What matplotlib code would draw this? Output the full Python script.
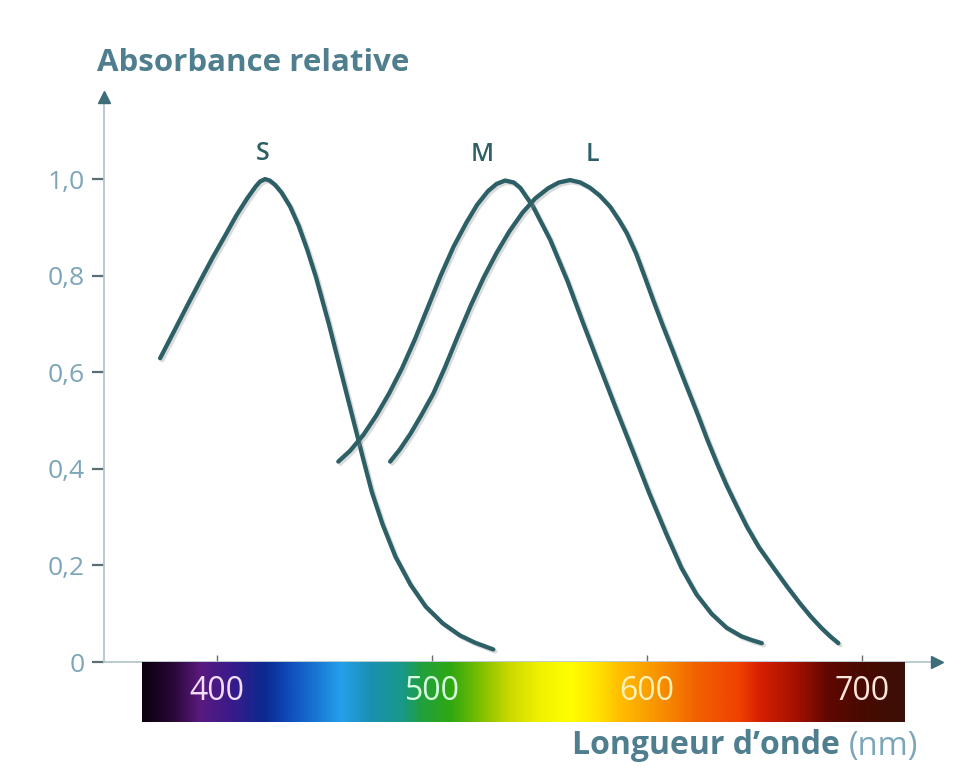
import matplotlib
matplotlib.use("Agg")
import matplotlib.pyplot as plt
import matplotlib.patheffects as pe
from matplotlib.colors import LinearSegmentedColormap
import numpy as np

plt.rcParams['font.family'] = ['Open Sans', 'DejaVu Sans']

# Relative absorbance of the three cone types
s_nm = [373.5, 380, 386, 392, 398, 404, 409, 414, 418, 420, 422.3, 424.5, 427,
        430, 434, 438, 442, 446, 452, 458, 464, 468, 472, 477, 483, 490, 497,
        505, 513, 520, 528.5]
s_abs = [0.629, 0.685, 0.737, 0.788, 0.838, 0.885, 0.925, 0.960, 0.985, 0.995, 1.0, 0.997, 0.988,
         0.972, 0.943, 0.903, 0.853, 0.797, 0.700, 0.595, 0.490, 0.420, 0.352, 0.285, 0.218, 0.160, 0.115,
         0.080, 0.055, 0.040, 0.026]

m_nm = [456.4, 462, 468, 474, 480, 486, 492, 498, 504, 510, 516, 521, 526, 530, 534,
        538, 541, 547, 555, 563, 570, 578, 586, 594, 601, 609, 616, 623, 630, 637,
        644, 649, 653.4]
m_abs = [0.415, 0.438, 0.470, 0.510, 0.556, 0.608, 0.668, 0.734, 0.800, 0.860, 0.910, 0.947, 0.975, 0.990, 0.997,
         0.993, 0.982, 0.943, 0.874, 0.789, 0.705, 0.612, 0.520, 0.430, 0.350, 0.265, 0.195, 0.140, 0.100, 0.071,
         0.053, 0.045, 0.039]

l_nm = [480.5, 485, 490, 495, 500.6, 506, 512, 518, 524, 530, 536, 542, 548, 554, 559,
        564.2, 569, 573.5, 578, 582.8, 587, 590.6, 595, 599, 603, 607.5, 612.2, 616,
        620, 624, 628, 632.5, 637, 642, 646.5, 652, 659, 665, 671, 676, 681, 685, 689]
l_abs = [0.415, 0.440, 0.473, 0.511, 0.556, 0.610, 0.675, 0.738, 0.796, 0.847, 0.892, 0.930, 0.960, 0.981, 0.993,
         0.998, 0.993, 0.982, 0.966, 0.943, 0.915, 0.888, 0.845, 0.797, 0.748, 0.695, 0.642, 0.598,
         0.553, 0.508, 0.461, 0.412, 0.366, 0.320, 0.280, 0.238, 0.194, 0.157, 0.122, 0.095, 0.071, 0.054, 0.039]

cone_names = ['S', 'M', 'L']
name_pos = [(421.4, 1.052), (523.3, 1.050), (574.4, 1.050)]

y_ticks = [0, 0.2, 0.4, 0.6, 0.8, 1.0]
y_tick_labels = ['0', '0,2', '0,4', '0,6', '0,8', '1,0']
wl_ticks = [400, 500, 600, 700]
wl_label_colors = ['#f2ddf8', '#d8ffe0', '#fff2b8', '#ffe6dc']

curve_col = '#2d5f67'
axis_col = '#b4c6cc'
tick_text_col = '#7ca6b8'
title_col = '#4f7f8f'

fig = plt.figure(figsize=(9.6, 7.8), dpi=100)
W, H = 960, 780

ax = fig.add_axes([104 / W, (H - 662) / H, (937 - 104) / W, (662 - 97) / H])
ax.set_xlim(347.4, 734.9)
ax.set_ylim(0, 1.17)

for side in ['top', 'right']:
    ax.spines[side].set_visible(False)
for side in ['left', 'bottom']:
    ax.spines[side].set_color(axis_col)
    ax.spines[side].set_linewidth(1.3)

# arrow heads on the axes
ax.plot(0, 1, '^', transform=ax.transAxes, clip_on=False, color='#3d6d7a', ms=8, zorder=5)
ax.plot(1, 0, '>', transform=ax.transAxes, clip_on=False, color='#3d6d7a', ms=8, zorder=5)

ax.set_yticks(y_ticks)
ax.set_yticklabels(y_tick_labels)
ax.tick_params(axis='y', direction='out', length=9, width=1.6, color='#5a6e75',
               labelcolor=tick_text_col, labelsize=19, pad=5)
ax.set_xticks(wl_ticks)
ax.set_xticklabels([])
ax.tick_params(axis='x', direction='in', length=5, width=1, color='#6a6a6a')

shadow = [pe.SimpleLineShadow(offset=(1.5, -1.5), shadow_color='#888888', alpha=0.3),
          pe.Normal()]
for nm, ab in [(s_nm, s_abs), (m_nm, m_abs), (l_nm, l_abs)]:
    ax.plot(nm, ab, color=curve_col, lw=3.1, solid_capstyle='round',
            solid_joinstyle='round', path_effects=shadow, zorder=3)

for name, (x, y) in zip(cone_names, name_pos):
    ax.text(x, y, name, ha='center', va='center', fontsize=18, fontweight='semibold',
            color=curve_col)

# colour spectrum under the axis
ax_bar = fig.add_axes([142 / W, (H - 722) / H, (905 - 142) / W, 60 / H])
stops = [(0.00, '#0c000e'), (0.04, '#2a0838'), (0.075, '#5a1a80'), (0.115, '#3a1a8a'),
         (0.16, '#0a2a90'), (0.195, '#1050c0'), (0.235, '#1a80d8'), (0.26, '#25a0ea'),
         (0.30, '#1a90b0'), (0.34, '#18988a'), (0.365, '#20a040'), (0.405, '#30a810'),
         (0.445, '#80c000'), (0.48, '#c8d800'), (0.52, '#f0f000'), (0.56, '#ffff00'),
         (0.60, '#ffe000'), (0.625, '#ffc000'), (0.68, '#f89000'), (0.73, '#f06000'),
         (0.785, '#f04000'), (0.81, '#d82000'), (0.862, '#a01000'), (0.90, '#600800'),
         (0.94, '#4a0a00'), (1.00, '#3a1008')]
spec = LinearSegmentedColormap.from_list('spectrum', stops)
ax_bar.imshow(np.linspace(0, 1, 512)[None, :], cmap=spec, aspect='auto',
              extent=(365.1, 720.0, 0, 1))
ax_bar.set_xlim(365.1, 720.0)
ax_bar.set_ylim(0, 1)
ax_bar.axis('off')
for wl, c in zip(wl_ticks, wl_label_colors):
    ax_bar.text(wl, 0.5, str(wl), ha='center', va='center', fontsize=23, color=c)

fig.text(97 / W, 1 - 63 / H, 'Absorbance relative', ha='left', va='center',
         fontsize=22.5, fontweight='bold', color=title_col)

t_nm = fig.text(918 / W, 1 - 746 / H, '(nm)', ha='right', va='center',
                fontsize=23.5, color=tick_text_col)
ax.annotate('Longueur d\u2019onde ', xy=(0, 0.02), xycoords=t_nm, ha='right', va='bottom',
            fontsize=23, fontweight='bold', color=title_col, annotation_clip=False)

fig.savefig('out.png', dpi=100, facecolor='white')
